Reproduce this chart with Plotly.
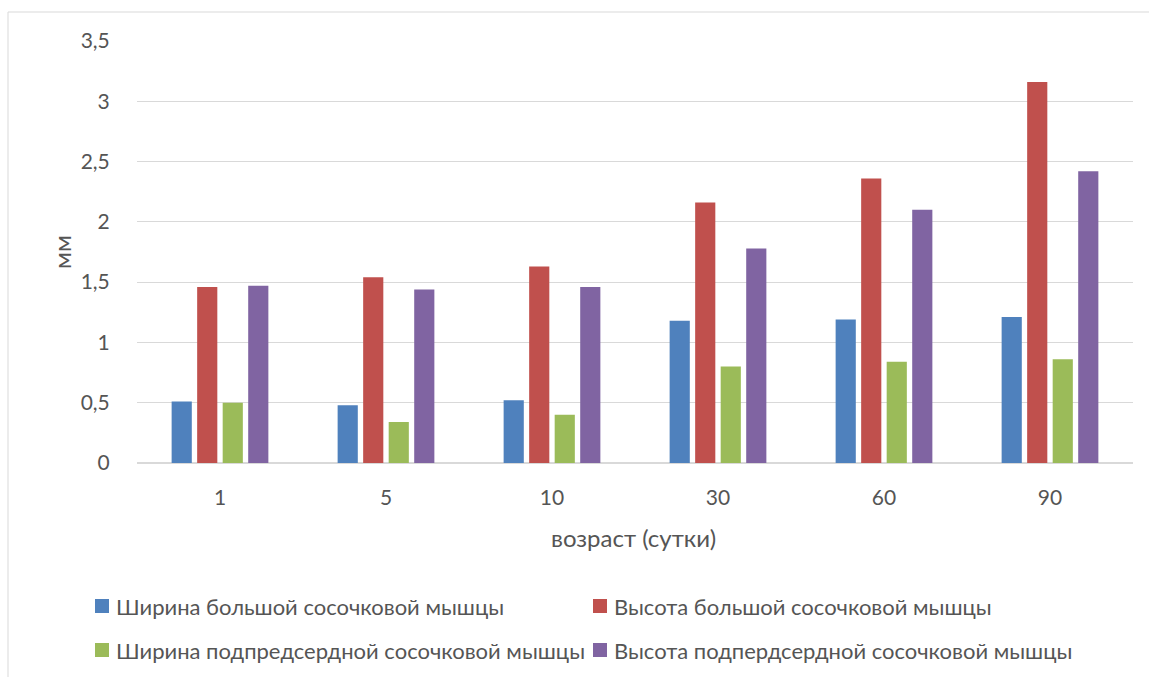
import plotly.graph_objects as go

# Возраст (сутки) и размеры мышц, мм
ages = ["1", "5", "10", "30", "60", "90"]
width_big = [0.51, 0.48, 0.52, 1.18, 1.19, 1.21]
height_big = [1.46, 1.54, 1.63, 2.16, 2.36, 3.16]
width_sub = [0.50, 0.34, 0.40, 0.80, 0.84, 0.86]
height_sub = [1.47, 1.44, 1.46, 1.78, 2.10, 2.42]

series_names = [
    "Ширина большой сосочковой мышцы",
    "Высота большой сосочковой мышцы",
    "Ширина подпредсердной сосочковой мышцы",
    "Высота подпердсердной сосочковой мышцы",
]
series_values = [width_big, height_big, width_sub, height_sub]
colors = ["#4f81bd", "#c0504d", "#9bbb59", "#8064a2"]
yticks = [0, 0.5, 1, 1.5, 2, 2.5, 3, 3.5]
ytick_text = ["0", "0,5", "1", "1,5", "2", "2,5", "3", "3,5"]

FONT = "Lato"
TXT = "#555555"
GRID = "#d9d9d9"

W, H = 1149, 677
ML, MR, MT, MB = 137, 16, 41, 214
PW, PH = W - ML - MR, H - MT - MB


def px_x(p):
    return (p - ML) / PW


def px_y(p):
    return (H - MB - p) / PH


fig = go.Figure()
for name, vals, col in zip(series_names, series_values, colors):
    fig.add_trace(go.Bar(
        x=ages, y=vals, name=name,
        marker=dict(color=col, line=dict(width=0)),
        showlegend=False,
    ))

shapes = [
    # chart frame
    dict(type="rect", xref="paper", yref="paper",
         x0=px_x(8), x1=px_x(1170), y0=px_y(700), y1=px_y(12),
         line=dict(color=GRID, width=1), fillcolor="rgba(0,0,0,0)", layer="below"),
]
annotations = [
    dict(text="возраст (сутки)", xref="paper", yref="paper",
         x=px_x(633), y=px_y(537), xanchor="center", yanchor="middle",
         showarrow=False, font=dict(family=FONT, size=24, color=TXT)),
    dict(text="мм", xref="paper", yref="paper",
         x=px_x(61), y=px_y(252), xanchor="center", yanchor="middle",
         textangle=-90, showarrow=False, font=dict(family=FONT, size=24, color=TXT)),
]

# legend: two columns, two rows
legend_pos = [(95, 606), (593, 606), (95, 650), (593, 650)]
for (lx, ly), name, col in zip(legend_pos, series_names, colors):
    shapes.append(dict(type="rect", xref="paper", yref="paper",
                       x0=px_x(lx), x1=px_x(lx + 14),
                       y0=px_y(ly + 7), y1=px_y(ly - 7),
                       fillcolor=col, line=dict(width=0)))
    annotations.append(dict(text=name, xref="paper", yref="paper",
                            x=px_x(lx + 19), y=px_y(ly), xanchor="left", yanchor="middle",
                            showarrow=False, font=dict(family=FONT, size=22, color=TXT)))

fig.update_layout(
    width=W, height=H,
    margin=dict(l=ML, r=MR, t=MT, b=MB),
    paper_bgcolor="white", plot_bgcolor="white",
    barmode="group", bargap=0.385, bargroupgap=0.21,
    font=dict(family=FONT, size=21, color=TXT),
    xaxis=dict(showgrid=False, showline=False, ticks="outside", ticklen=16,
               tickcolor="rgba(0,0,0,0)",
               tickfont=dict(family=FONT, size=21, color=TXT)),
    yaxis=dict(range=[0, 3.5], tickvals=yticks, ticktext=ytick_text,
               showgrid=True, gridcolor=GRID, gridwidth=1,
               zeroline=True, zerolinecolor=GRID, zerolinewidth=2,
               showline=False, ticks="outside", ticklen=22, tickcolor="rgba(0,0,0,0)",
               tickfont=dict(family=FONT, size=21, color=TXT)),
    shapes=shapes,
    annotations=annotations,
)

fig.write_html("out.html")
